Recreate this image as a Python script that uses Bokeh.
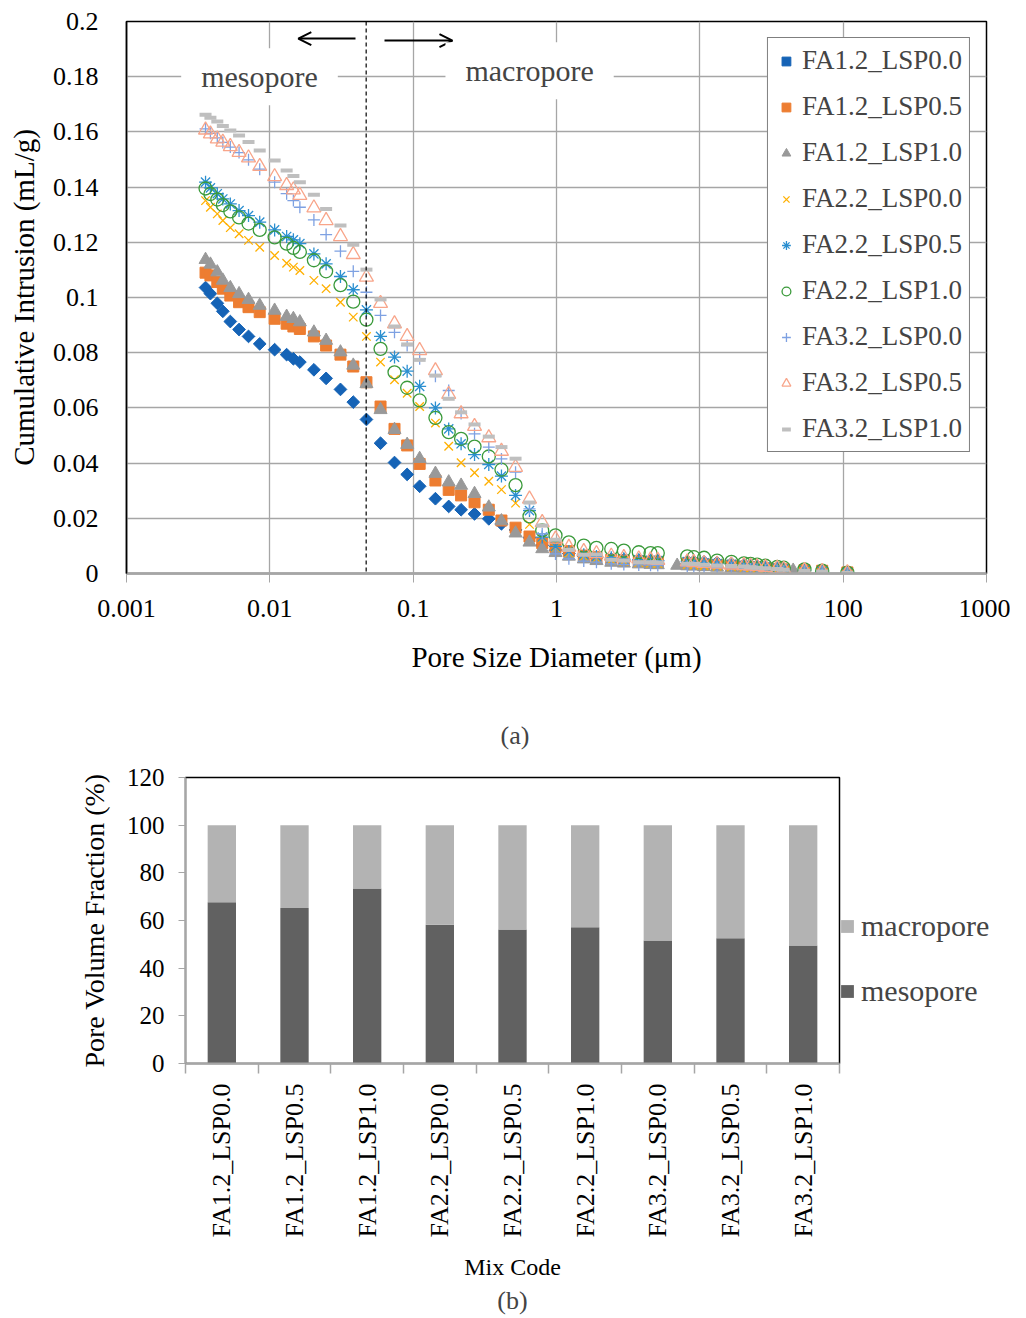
import math
import numpy as np
from bokeh.plotting import figure
from bokeh.models import (Range1d, FixedTicker, Legend, LegendItem, Span, Label,
                          Arrow, OpenHead, Title)
from bokeh.embed import file_html
from bokeh.resources import INLINE

# ---------------- data: (a) cumulative intrusion ----------------
PORE_SIZE = [0.00356, 0.00385, 0.0043, 0.0047, 0.0053, 0.0061, 0.0071, 0.0085, 0.0108, 0.0131,
             0.0146, 0.0162, 0.0203, 0.0247, 0.0311, 0.0382, 0.0472, 0.0592, 0.0741, 0.0908,
             0.111, 0.143, 0.177, 0.216, 0.268, 0.337, 0.413, 0.518, 0.648, 0.795,
             0.984, 1.22, 1.55, 1.90, 2.41, 2.95, 3.75, 4.53, 5.09, 6.95,
             8.17, 9.08, 10.7, 13.2, 16.6, 20.3, 22.6, 25.1, 28.7, 34.7,
             38.5, 44.8, 53.7, 71.4, 107.0]

FA12_LSP00 = [0.1036, 0.1014, 0.0979, 0.0950, 0.0913, 0.0884, 0.0859, 0.0832, 0.0811, 0.0793,
              0.0778, 0.0766, 0.0738, 0.0707, 0.0667, 0.0621, 0.0558, 0.0472, 0.0402, 0.0359,
              0.0316, 0.0271, 0.0243, 0.0231, 0.0216, 0.0198, 0.0180, 0.0158, 0.0130, 0.0102,
              0.0084, 0.0072, 0.0063, 0.0057, 0.0052, 0.0050, 0.0048, 0.0047, 0.0046, None,
              0.0045, 0.0044, 0.0042, 0.0040, 0.0036, 0.0032, 0.0030, 0.0028, 0.0025, 0.0020,
              0.0017, None, 0.0010, 0.0006, 0.0000]
FA12_LSP05 = [0.1090, 0.1080, 0.1056, 0.1032, 0.1007, 0.0983, 0.0965, 0.0947, 0.0923, 0.0905,
              0.0895, 0.0886, 0.0859, 0.0826, 0.0793, 0.0750, 0.0693, 0.0605, 0.0524, 0.0464,
              0.0397, 0.0337, 0.0303, 0.0283, 0.0258, 0.0231, 0.0192, 0.0166, 0.0134, 0.0110,
              0.0095, 0.0081, 0.0065, 0.0059, 0.0050, 0.0047, 0.0044, 0.0042, 0.0041, None,
              0.0036, 0.0035, 0.0033, 0.0031, 0.0028, 0.0025, 0.0023, 0.0021, 0.0019, 0.0017,
              0.0015, None, 0.0012, 0.0010, 0.0004]
FA12_LSP10 = [0.1137, 0.1120, 0.1092, 0.1062, 0.1035, 0.1013, 0.0992, 0.0971, 0.0953, 0.0931,
              0.0923, 0.0911, 0.0874, 0.0844, 0.0802, 0.0754, 0.0687, 0.0593, 0.0521, 0.0467,
              0.0416, 0.0362, 0.0331, 0.0319, 0.0289, 0.0240, 0.0190, 0.0146, 0.0113, 0.0089,
              0.0075, 0.0062, 0.0052, 0.0046, 0.0040, 0.0037, 0.0034, 0.0032, 0.0031, 0.0029,
              0.0027, 0.0026, 0.0024, 0.0022, 0.0020, 0.0018, 0.0017, 0.0016, 0.0014, 0.0013,
              0.0012, 0.0011, 0.0008, 0.0006, 0.0003]
FA22_LSP00 = [0.1351, 0.1327, 0.1303, 0.1279, 0.1253, 0.1231, 0.1207, 0.1182, 0.1152, 0.1124,
              0.1110, 0.1098, 0.1062, 0.1032, 0.0983, 0.0929, 0.0859, 0.0766, 0.0702, 0.0653,
              0.0605, 0.0545, 0.0461, 0.0401, 0.0365, 0.0334, 0.0304, 0.0255, 0.0178, 0.0129,
              0.0095, 0.0075, 0.0062, 0.0055, 0.0048, 0.0044, 0.0040, 0.0037, 0.0036, None,
              0.0032, 0.0030, 0.0028, 0.0026, 0.0024, 0.0022, 0.0020, 0.0018, 0.0016, 0.0014,
              0.0012, None, 0.0009, 0.0006, 0.0002]
FA22_LSP05 = [0.1418, 0.1397, 0.1376, 0.1357, 0.1339, 0.1315, 0.1297, 0.1273, 0.1245, 0.1221,
              0.1209, 0.1195, 0.1158, 0.1122, 0.1076, 0.1028, 0.0955, 0.0859, 0.0784, 0.0733,
              0.0678, 0.0600, 0.0524, 0.0470, 0.0431, 0.0395, 0.0353, 0.0283, 0.0228, 0.0132,
              0.0098, 0.0080, 0.0068, 0.0062, 0.0057, 0.0053, 0.0050, 0.0048, 0.0047, None,
              0.0043, 0.0041, 0.0039, 0.0036, 0.0033, 0.0030, 0.0028, 0.0026, 0.0023, 0.0020,
              0.0017, None, 0.0012, 0.0008, 0.0003]
FA22_LSP10 = [0.1395, 0.1375, 0.1355, 0.1335, 0.1312, 0.1290, 0.1268, 0.1245, 0.1218, 0.1195,
              0.1180, 0.1165, 0.1135, 0.1095, 0.1045, 0.0985, 0.0920, 0.0814, 0.0729, 0.0673,
              0.0627, 0.0564, 0.0512, 0.0488, 0.0460, 0.0424, 0.0376, 0.0320, 0.0207, 0.0156,
              0.0138, 0.0113, 0.0101, 0.0093, 0.0089, 0.0083, 0.0077, 0.0074, 0.0074, None,
              0.0062, 0.0059, 0.0057, 0.0047, 0.0042, 0.0037, 0.0035, 0.0032, 0.0028, 0.0024,
              0.0021, None, 0.0015, 0.0010, 0.0003]
FA32_LSP00 = [0.1611, 0.1595, 0.1578, 0.1562, 0.1545, 0.1525, 0.1499, 0.1465, 0.1418, 0.1376,
              0.1351, 0.1327, 0.1281, 0.1228, 0.1168, 0.1095, 0.1019, 0.0935, 0.0874, 0.0826,
              0.0778, 0.0715, 0.0663, 0.0580, 0.0506, 0.0458, 0.0415, 0.0367, 0.0234, 0.0144,
              0.0071, 0.0053, 0.0045, 0.0041, 0.0035, 0.0033, 0.0031, 0.0030, 0.0029, None,
              0.0026, 0.0025, 0.0023, 0.0021, 0.0019, 0.0017, 0.0016, 0.0015, 0.0013, 0.0012,
              0.0010, None, 0.0008, 0.0005, 0.0002]
FA32_LSP05 = [0.1607, 0.1593, 0.1575, 0.1563, 0.1547, 0.1526, 0.1506, 0.1475, 0.1438, 0.1406,
              0.1390, 0.1370, 0.1325, 0.1279, 0.1221, 0.1156, 0.1074, 0.0979, 0.0905, 0.0859,
              0.0808, 0.0735, 0.0649, 0.0579, 0.0533, 0.0492, 0.0443, 0.0385, 0.0270, 0.0185,
              0.0125, 0.0095, 0.0080, 0.0072, 0.0063, 0.0058, 0.0053, 0.0050, 0.0048, None,
              0.0042, 0.0040, 0.0037, 0.0034, 0.0031, 0.0029, 0.0027, 0.0025, 0.0022, 0.0019,
              0.0016, None, 0.0011, 0.0008, 0.0003]
FA32_LSP10 = [0.1662, 0.1651, 0.1638, 0.1621, 0.1605, 0.1587, 0.1563, 0.1533, 0.1496, 0.1460,
              0.1440, 0.1418, 0.1372, 0.1321, 0.1261, 0.1191, 0.1101, 0.0993, 0.0895, 0.0830,
              0.0774, 0.0717, 0.0633, 0.0584, 0.0540, 0.0496, 0.0458, 0.0416, 0.0257, 0.0174,
              0.0122, 0.0086, 0.0068, 0.0069, 0.0050, 0.0047, 0.0041, 0.0041, 0.0040, None,
              0.0035, 0.0034, 0.0032, 0.0029, 0.0027, 0.0025, 0.0023, 0.0021, 0.0019, 0.0016,
              0.0014, None, 0.0010, 0.0007, 0.0003]

SERIES_NAMES = ["FA1.2_LSP0.0", "FA1.2_LSP0.5", "FA1.2_LSP1.0",
                "FA2.2_LSP0.0", "FA2.2_LSP0.5", "FA2.2_LSP1.0",
                "FA3.2_LSP0.0", "FA3.2_LSP0.5", "FA3.2_LSP1.0"]
SERIES_VALUES = [FA12_LSP00, FA12_LSP05, FA12_LSP10,
                 FA22_LSP00, FA22_LSP05, FA22_LSP10,
                 FA32_LSP00, FA32_LSP05, FA32_LSP10]

XTICKS = [0.001, 0.01, 0.1, 1, 10, 100, 1000]
XTICK_LABELS = ["0.001", "0.01", "0.1", "1", "10", "100", "1000"]
YTICKS = [0, 0.02, 0.04, 0.06, 0.08, 0.1, 0.12, 0.14, 0.16, 0.18, 0.2]
YTICK_LABELS = ["0", "0.02", "0.04", "0.06", "0.08", "0.1", "0.12", "0.14", "0.16", "0.18", "0.2"]
BOUNDARY = 0.047  # mesopore / macropore boundary (um)

# ---------------- data: (b) pore volume fraction ----------------
MIX_CODES = ["FA1.2_LSP0.0", "FA1.2_LSP0.5", "FA1.2_LSP1.0",
             "FA2.2_LSP0.0", "FA2.2_LSP0.5", "FA2.2_LSP1.0",
             "FA3.2_LSP0.0", "FA3.2_LSP0.5", "FA3.2_LSP1.0"]
MESOPORE = [67.7, 65.2, 73.4, 58.2, 56.2, 57.2, 51.6, 52.6, 49.5]
MACROPORE = [32.3, 34.8, 26.6, 41.8, 43.8, 42.8, 48.4, 47.4, 50.5]
Y2TICKS = [0, 20, 40, 60, 80, 100, 120]

# ---------------- styles ----------------
FONT = "Liberation Serif"
STYLES = [
    dict(marker="square", size=9, angle=math.pi / 4, fill_color="#1563B6", line_color="#1563B6"),
    dict(marker="square", size=11, fill_color="#ED7D31", line_color="#ED7D31"),
    dict(marker="triangle", size=13, fill_color="#999999", line_color="#999999"),
    dict(marker="x", size=12, line_color="#FFB000", line_width=1.3),
    dict(marker="asterisk", size=13, line_color="#2B8FD0", line_width=1.3),
    dict(marker="circle", size=13, fill_color=None, line_color="#3A9A3A", line_width=1.3),
    dict(marker="cross", size=12, line_color="#7EA1E2", line_width=1.3),
    dict(marker="triangle", size=14, fill_color=None, line_color="#F8A58A", line_width=1.3),
    dict(marker="dash", size=12, line_color="#BFBFBF", line_width=4),
]

# ================= figure (a) =================
pa = figure(width=1010, height=689, x_axis_type="log",
            x_range=Range1d(0.001, 1000), y_range=Range1d(0, 0.2),
            output_backend="svg", toolbar_location=None,
            min_border_left=126, min_border_right=24, min_border_top=21, min_border_bottom=116)
pa.outline_line_color = "black"
pa.outline_line_width = 1.5

pa.xaxis.ticker = FixedTicker(ticks=XTICKS, minor_ticks=[])
pa.xaxis.major_label_overrides = {t: l for t, l in zip(XTICKS, XTICK_LABELS)}
pa.yaxis.ticker = FixedTicker(ticks=YTICKS, minor_ticks=[])
pa.yaxis.major_label_overrides = {t: l for t, l in zip(YTICKS, YTICK_LABELS)}
pa.xgrid.ticker = FixedTicker(ticks=XTICKS)
pa.ygrid.ticker = FixedTicker(ticks=YTICKS)
for g in (pa.xgrid, pa.ygrid):
    g.grid_line_color = "#A6A6A6"
    g.grid_line_width = 1.3

for ax in (pa.xaxis, pa.yaxis):
    ax.major_label_text_font = FONT
    ax.major_label_text_font_size = "26px"
    ax.major_label_text_color = "black"
    ax.axis_label_text_font = FONT
    ax.axis_label_text_font_size = "29px"
    ax.axis_label_text_font_style = "normal"
    ax.axis_label_text_color = "black"
    ax.minor_tick_line_color = None

pa.xaxis.axis_label = "Pore Size Diameter (μm)"
pa.xaxis.axis_line_color = "#A6A6A6"
pa.xaxis.axis_line_width = 2.5
pa.xaxis.major_tick_line_color = "#A6A6A6"
pa.xaxis.major_tick_out = 9
pa.xaxis.major_tick_in = 0
pa.xaxis.major_label_standoff = 17
pa.xaxis.axis_label_standoff = 21

pa.yaxis.axis_label = "Cumulative Intrusion (mL/g)"
pa.yaxis.axis_line_color = "black"
pa.yaxis.axis_line_width = 1.5
pa.yaxis.major_tick_line_color = None
pa.yaxis.major_tick_out = 0
pa.yaxis.major_tick_in = 0
pa.yaxis.major_label_standoff = 28
pa.yaxis.axis_label_standoff = 10

items = []
for name, vals, st in zip(SERIES_NAMES, SERIES_VALUES, STYLES):
    y = np.array(vals, dtype=float)
    r = pa.scatter(x=PORE_SIZE, y=y, **st)
    items.append(LegendItem(label=name, renderers=[r]))

leg = Legend(items=items, location="top_right", margin=16, padding=7,
             spacing=15, label_height=30, glyph_width=22, glyph_height=22,
             label_standoff=5, border_line_color="black", border_line_width=1.5,
             background_fill_color="white", background_fill_alpha=1.0,
             label_text_font=FONT, label_text_font_size="27px")
pa.add_layout(leg)

pa.add_layout(Span(location=BOUNDARY, dimension="height", line_color="black",
                   line_width=1.2, line_dash="4 3"))
pa.add_layout(Arrow(end=OpenHead(size=13, line_width=2), line_width=2,
                    x_start=0.0396, y_start=0.1938, x_end=0.0158, y_end=0.1938))
pa.add_layout(Arrow(end=OpenHead(size=13, line_width=2), line_width=2,
                    x_start=0.0631, y_start=0.1931, x_end=0.188, y_end=0.1931))
pa.add_layout(Label(x=0.00847, y=0.1800, text="mesopore", text_align="center",
                    text_baseline="middle", text_font=FONT, text_font_size="30px",
                    background_fill_color="white",
                    padding=dict(left=20, right=20, top=12, bottom=12)))
pa.add_layout(Label(x=0.649, y=0.1822, text="macropore", text_align="center",
                    text_baseline="middle", text_font=FONT, text_font_size="30px",
                    background_fill_color="white",
                    padding=dict(left=20, right=20, top=12, bottom=12)))

# ================= figure (b) =================
xpos = [i + 0.5 for i in range(len(MIX_CODES))]
pb = figure(frame_width=654, frame_height=286, x_range=Range1d(0, len(MIX_CODES)),
            y_range=Range1d(0, 120), output_backend="svg", toolbar_location=None,
            min_border_left=185, min_border_right=10, min_border_top=88, min_border_bottom=200)
pb.outline_line_color = "black"
pb.outline_line_width = 1.5
pb.xgrid.grid_line_color = None
pb.ygrid.grid_line_color = None

src = dict(x=xpos, mesopore=MESOPORE, macropore=MACROPORE)
rs = pb.vbar_stack(["mesopore", "macropore"], x="x", width=0.39, source=src,
                   color=["#616161", "#B3B3B3"], line_color=None)

pb.xaxis.ticker = FixedTicker(ticks=xpos, minor_ticks=list(range(len(MIX_CODES) + 1)))
pb.xaxis.major_label_overrides = {t: l for t, l in zip(xpos, MIX_CODES)}
pb.xaxis.major_label_orientation = math.pi / 2
pb.xaxis.major_tick_line_color = None
pb.xaxis.major_tick_out = 0
pb.xaxis.major_tick_in = 0
pb.xaxis.minor_tick_line_color = "#A6A6A6"
pb.xaxis.minor_tick_line_width = 1.5
pb.xaxis.minor_tick_out = 10
pb.xaxis.minor_tick_in = 0
pb.xaxis.major_label_standoff = 10
pb.xaxis.axis_label = "Mix Code"
pb.xaxis.axis_label_standoff = 13
pb.xaxis.axis_line_color = "#A6A6A6"
pb.xaxis.axis_line_width = 2

pb.yaxis.ticker = FixedTicker(ticks=Y2TICKS, minor_ticks=[])
pb.yaxis.axis_label = "Pore Volume Fraction (%)"
pb.yaxis.axis_line_color = "#A6A6A6"
pb.yaxis.axis_line_width = 1.5
pb.yaxis.major_tick_line_color = "#A6A6A6"
pb.yaxis.major_tick_out = 7
pb.yaxis.major_tick_in = 0
pb.yaxis.major_label_standoff = 14
pb.yaxis.axis_label_standoff = 14

for ax in (pb.xaxis, pb.yaxis):
    ax.major_label_text_font = FONT
    ax.major_label_text_font_size = "25px"
    ax.major_label_text_color = "black"
    ax.axis_label_text_font = FONT
    ax.axis_label_text_font_style = "normal"
    ax.axis_label_text_color = "black"
pb.xaxis.major_label_text_font_size = "26px"
pb.xaxis.axis_label_text_font_size = "24px"
pb.yaxis.axis_label_text_font_size = "28px"

legb = Legend(items=[LegendItem(label="macropore", renderers=[rs[1]]),
                     LegendItem(label="mesopore", renderers=[rs[0]])],
              location="top_left", margin=0, padding=6, spacing=31, label_height=30,
              glyph_width=16, glyph_height=16, label_standoff=6,
              title=" ", title_text_font_size="2px", title_standoff=130,
              border_line_color=None, background_fill_alpha=0,
              label_text_font=FONT, label_text_font_size="30px")
pb.add_layout(legb, "right")
# panel captions: "(a)" sits between the two panels, "(b)" at the bottom
pb.add_layout(Title(text="(a)", align="left", offset=315, standoff=56,
                    text_font=FONT, text_font_size="26px", text_font_style="normal"), "above")
pb.add_layout(Title(text="(b)", align="center", standoff=2,
                    text_font=FONT, text_font_size="26px", text_font_style="normal"), "below")

open("out.html", "w").write(file_html([pa, pb], INLINE))
